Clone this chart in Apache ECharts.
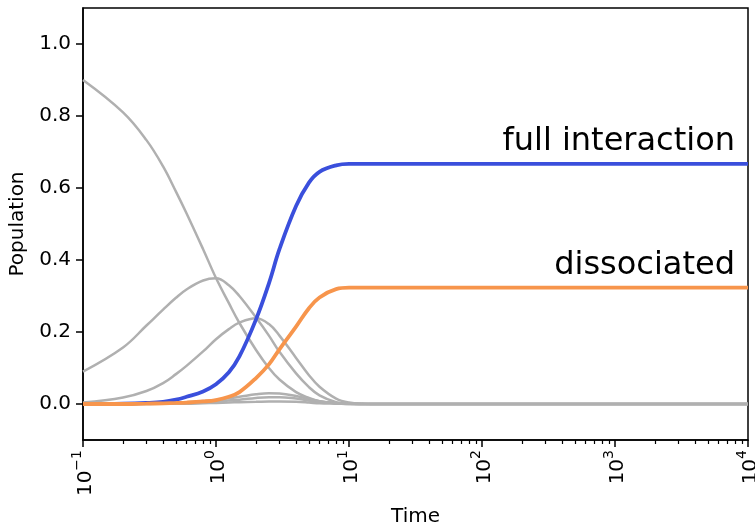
<!DOCTYPE html>
<html>
<head>
<meta charset="utf-8">
<script src="https://cdn.jsdelivr.net/npm/echarts@6/dist/echarts.min.js"></script>
<style>html,body{margin:0;padding:0;background:#fff}#c{width:755px;height:526px}</style>
</head>
<body>
<div id="c"></div>
<script>
// Time samples
const times = [0.1,0.2,0.3,0.4,0.5,0.6,0.8,1,1.25,1.5,2,2.5,3,4,5,6,8,10,13,20,100,1000,10000];
// Gray intermediate populations
const grayA = [0.90,0.81,0.733,0.66,0.59,0.53,0.43,0.35,0.28,0.225,0.15,0.1,0.068,0.033,0.017,0.008,0.002,0,0,0,0,0,0];
const grayB = [0.09,0.157,0.218,0.262,0.295,0.318,0.343,0.349,0.33,0.3,0.24,0.19,0.145,0.085,0.047,0.024,0.005,0.001,0,0,0,0,0];
const grayC = [0.004,0.018,0.036,0.058,0.083,0.106,0.146,0.18,0.208,0.226,0.238,0.222,0.19,0.128,0.08,0.048,0.015,0.004,0.001,0,0,0,0];
const grayD = [0,0.001,0.002,0.003,0.004,0.005,0.008,0.011,0.016,0.02,0.027,0.03,0.029,0.022,0.014,0.008,0.003,0.001,0,0,0,0,0];
const grayE = [0,0,0.001,0.002,0.002,0.003,0.005,0.007,0.01,0.012,0.017,0.019,0.019,0.015,0.01,0.006,0.002,0.001,0,0,0,0,0];
const grayF = [0,0,0,0.001,0.001,0.001,0.002,0.003,0.004,0.005,0.006,0.007,0.007,0.006,0.004,0.002,0.001,0,0,0,0,0,0];
// Final states
const fullInteraction = [0,0.001,0.003,0.006,0.012,0.02,0.035,0.055,0.088,0.132,0.235,0.335,0.43,0.55,0.615,0.645,0.663,0.667,0.667,0.667,0.667,0.667,0.667];
const dissociated = [0,0,0.001,0.002,0.003,0.004,0.007,0.011,0.02,0.033,0.072,0.11,0.152,0.215,0.266,0.296,0.319,0.323,0.323,0.323,0.323,0.323,0.323];
const xTicks = [0.1,1,10,100,1000,10000];
const xTickExp = ['\u22121','0','1','2','3','4'];
const yTicks = [0,0.2,0.4,0.6,0.8,1.0];
const labelFull = 'full interaction';
const labelDiss = 'dissociated';

const pair = arr => times.map((t,i)=>[t,arr[i]]);
const grayColor = '#b0b0b0';
const FONT = 'DejaVu Sans';
function grayLine(name, arr){
  return {name, type:'line', data:pair(arr), showSymbol:false, smooth:0.4,
    lineStyle:{color:grayColor, width:2.5}, z:2, silent:true};
}
const chart = echarts.init(document.getElementById('c'), null, {renderer:'canvas'});
chart.setOption({
  animation:false,
  grid:{left:83,right:7,top:8,bottom:86,containLabel:false,outerBoundsMode:'none',show:true,borderColor:'#000',borderWidth:1.5,backgroundColor:'transparent'},
  xAxis:{type:'log',logBase:10,min:0.1,max:10000,
    name:'Time',nameLocation:'middle',nameGap:67,nameTextStyle:{fontFamily:FONT,fontSize:20,color:'#000'},
    axisLine:{show:true,onZero:false,lineStyle:{color:'#000',width:1.5}},
    axisTick:{show:true,length:7,lineStyle:{color:'#000',width:1.5}},
    minorTick:{show:true,splitNumber:9,length:4,lineStyle:{color:'#000',width:1.2}},
    axisLabel:{rotate:90,fontFamily:FONT,fontSize:20,color:'#000',margin:10,
      formatter:v=>{const i=xTicks.findIndex(t=>Math.abs(Math.log10(t)-Math.log10(v))<1e-6);return i>=0?'{n|10}{e|'+xTickExp[i]+'}':'';},
      rich:{n:{fontFamily:FONT,fontSize:20,color:'#000',lineHeight:26,verticalAlign:'bottom'},e:{fontFamily:FONT,fontSize:14,color:'#000',lineHeight:26,verticalAlign:'top'}}},
    splitLine:{show:false},minorSplitLine:{show:false}},
  yAxis:{type:'value',min:-0.1,max:1.1,
    name:'Population',nameLocation:'middle',nameGap:53,nameRotate:90,nameTextStyle:{fontFamily:FONT,fontSize:20,color:'#000'},
    axisLine:{show:true,lineStyle:{color:'#000',width:1.5}},
    axisTick:{show:true,length:7,lineStyle:{color:'#000',width:1.5},customValues:yTicks},
    axisLabel:{fontFamily:FONT,fontSize:20,color:'#000',margin:12,customValues:yTicks,formatter:v=>v.toFixed(1)},
    splitLine:{show:false}},
  series:[
    grayLine('A',grayA),grayLine('B',grayB),grayLine('C',grayC),grayLine('D',grayD),grayLine('E',grayE),grayLine('F',grayF),
    {name:labelFull,type:'line',data:pair(fullInteraction),showSymbol:false,smooth:0.4,
      lineStyle:{color:'#3a4fdc',width:3.8},z:3,silent:true},
    {name:labelDiss,type:'line',data:pair(dissociated),showSymbol:false,smooth:0.4,
      lineStyle:{color:'#f7954c',width:3.8},z:3,silent:true}
  ],
  graphic:[
    {type:'text',x:735,y:142,style:{text:labelFull,font:'32px "DejaVu Sans"',fill:'#000',align:'right',verticalAlign:'middle'}},
    {type:'text',x:735,y:266,style:{text:labelDiss,font:'32px "DejaVu Sans"',fill:'#000',align:'right',verticalAlign:'middle'}}
  ]
});
</script>
</body>
</html>
